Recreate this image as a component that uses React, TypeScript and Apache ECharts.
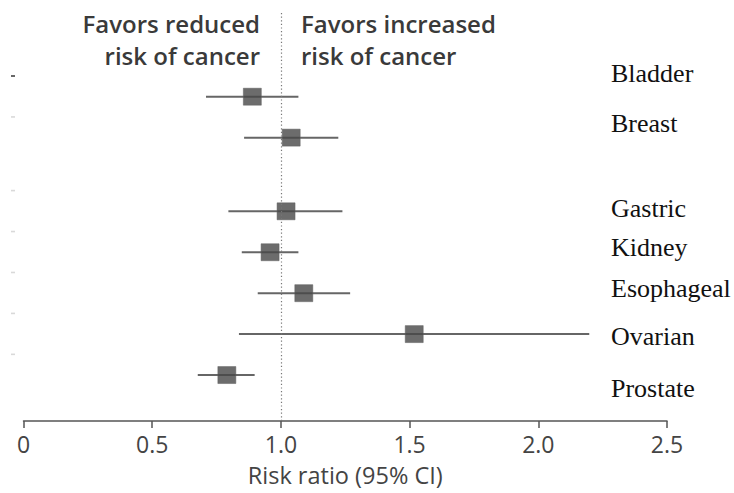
import React, { useEffect, useRef } from "react";
import * as echarts from "echarts";

const categories = ["Bladder", "Breast", "Gastric", "Kidney", "Esophageal", "Ovarian", "Prostate"];
const rowIndex = [0, 1, 2.8, 3.8, 4.8, 5.8, 6.8];
const estimate = [0.889, 1.04, 1.02, 0.958, 1.089, 1.518, 0.79];
const lower = [0.709, 0.857, 0.796, 0.848, 0.91, 0.837, 0.677];
const upper = [1.068, 1.223, 1.239, 1.068, 1.269, 2.198, 0.898];
const tickLabels = ["0", "0.5", "1.0", "1.5", "2.0", "2.5"];
const headerLeft = ["Favors reduced", "risk of cancer"];
const headerRight = ["Favors increased", "risk of cancer"];
const axisTitle = "Risk ratio (95% CI)";

export default function App() {
  const ref = useRef<HTMLDivElement>(null);
  useEffect(() => {
    if (!ref.current) return;
    const chart = echarts.init(ref.current, null, { renderer: "svg" });
    const labelY = [73, 123, 208, 247, 288, 336, 388];
    const option: any = {
      animation: false,
      backgroundColor: "#ffffff",
      grid: { left: 23.5, right: 67, top: 13, bottom: 72, outerBoundsMode: "none", containLabel: false },
      xAxis: {
        type: "value",
        min: 0,
        max: 2.5,
        interval: 0.5,
        name: axisTitle,
        nameLocation: "middle",
        nameGap: 43,
        nameTextStyle: { fontFamily: "Open Sans", fontSize: 23.5, lineHeight: 22, color: "#444" },
        axisLine: { show: true, onZero: false, lineStyle: { color: "#555", width: 1.5 } },
        axisTick: { show: true, length: 7, lineStyle: { color: "#555", width: 1.5 } },
        axisLabel: {
          fontFamily: "Open Sans",
          fontSize: 23,
          color: "#444",
          margin: 11,
          formatter: (v: number) => tickLabels[Math.round(v / 0.5)] ?? "",
        },
        splitLine: { show: false },
      },
      yAxis: {
        type: "value",
        inverse: true,
        min: -2.045,
        max: 7.923,
        show: false,
      },
      series: [
        {
          type: "custom",
          renderItem: (params: any, api: any) => {
            const y = api.value(0);
            const p1 = api.coord([api.value(1), y]);
            const p2 = api.coord([api.value(2), y]);
            return {
              type: "line",
              shape: { x1: p1[0], y1: p1[1], x2: p2[0], y2: p2[1] },
              style: { stroke: "#666", lineWidth: 2 },
            };
          },
          encode: { x: [1, 2], y: 0 },
          data: rowIndex.map((r, i) => [r, lower[i], upper[i]]),
          clip: false,
          silent: true,
        },
        {
          type: "scatter",
          symbol: "rect",
          symbolSize: [18, 17],
          itemStyle: { color: "#474747", borderColor: "#5e5e5e", borderWidth: 0.6 },
          data: rowIndex.map((r, i) => [estimate[i], r]),
          markLine: {
            silent: true,
            symbol: "none",
            label: { show: false },
            lineStyle: { color: "#777", type: [1.2, 2.4], width: 1.2 },
            data: [{ xAxis: 1 }],
          },
          z: 3,
        },
        {
          type: "scatter",
          symbol: "rect",
          symbolSize: [4, 1.6],
          symbolOffset: [-10.5, -20.7],
          clip: false,
          silent: true,
          data: rowIndex.map((r, i) => ({
            value: [0, r],
            itemStyle: { color: i === 0 ? "#111" : "#cfcfcf" },
          })),
        },
      ],
      graphic: [
        ...headerLeft.map((t, i) => ({
          type: "text",
          x: 260,
          y: 23.5 + i * 31.5,
          style: {
            text: t,
            align: "right",
            verticalAlign: "middle",
            fontFamily: "Open Sans",
            fontWeight: 600,
            fontSize: 24,
            fill: "#3a3a3a",
          },
        })),
        ...headerRight.map((t, i) => ({
          type: "text",
          x: 301,
          y: 23.5 + i * 31.5,
          style: {
            text: t,
            align: "left",
            verticalAlign: "middle",
            fontFamily: "Open Sans",
            fontWeight: 600,
            fontSize: 24,
            fill: "#3a3a3a",
          },
        })),
        ...categories.map((c, i) => ({
          type: "text",
          x: 611,
          y: labelY[i],
          style: {
            text: c,
            align: "left",
            verticalAlign: "middle",
            fontFamily: "Liberation Serif",
            fontSize: 26,
            fill: "#111",
          },
        })),
      ],
    };
    chart.setOption(option);
    return () => chart.dispose();
  }, []);
  return (
    <div
      ref={ref}
      style={{ position: "fixed", left: 0, top: 0, width: 734, height: 493 }}
    />
  );
}
